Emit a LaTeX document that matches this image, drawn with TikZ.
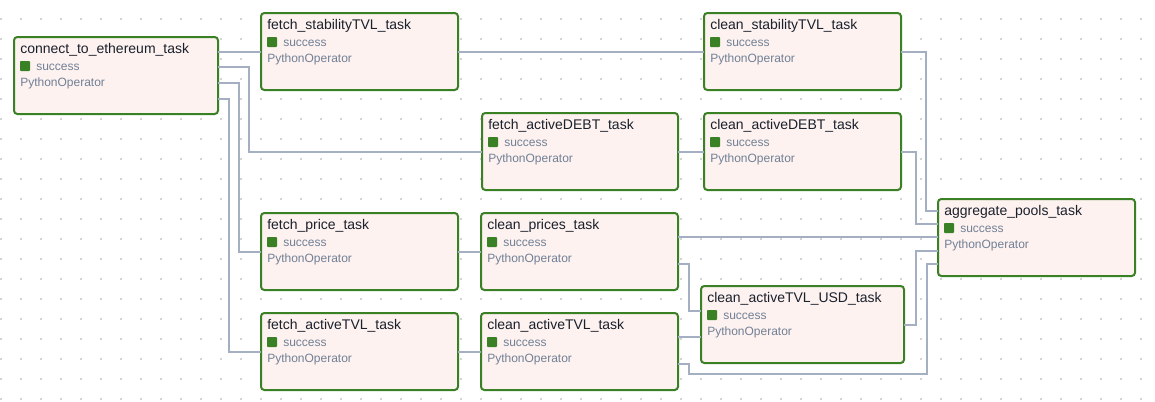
\documentclass[tikz,border=0pt]{standalone}
\usepackage{fontspec}
\setmainfont{Liberation Sans}
\usetikzlibrary{calc}
\definecolor{okgreen}{RGB}{58,128,36}
\definecolor{nodefill}{RGB}{253,242,239}
\definecolor{subgray}{RGB}{113,128,150}
\definecolor{edgegray}{RGB}{164,176,194}
\definecolor{titleblack}{RGB}{26,32,44}
\definecolor{dotgray}{RGB}{212,212,212}
\newcommand\tasknode[6]{%
  \node[taskbox, minimum width=#4*0.75pt, minimum height=#5*0.75pt] (#1) at (#2,#3) {};
  \node[tasktitle] (#1-t) at ($(#1.north west)+(6,16)$) {#6};
  \node[statesq] (#1-q) at ($(#1.north west)+(6,24)$) {};
  \node[tasksub] (#1-s) at ($(#1.north west)+(22,33)$) {success};
  \node[tasksub] (#1-o) at ($(#1.north west)+(6,49.5)$) {PythonOperator};
}
\begin{document}
\begin{tikzpicture}[x=0.75pt,y=-0.75pt,
  taskbox/.style={rectangle, draw=okgreen, fill=nodefill, line width=1.5pt, rounded corners=2.5pt, inner sep=0pt, outer sep=0pt, anchor=north west},
  tasktitle/.style={anchor=base west, inner sep=0pt, text=titleblack, font=\fontsize{10.5pt}{12pt}\selectfont},
  tasksub/.style={anchor=base west, inner sep=0pt, text=subgray, font=\fontsize{9pt}{11pt}\selectfont},
  statesq/.style={rectangle, fill=okgreen, rounded corners=0.6pt, inner sep=0pt, outer sep=0pt, minimum size=7.5pt, anchor=north west},
  edge/.style={draw=edgegray, line width=1.5pt}]
\useasboundingbox (0,0) rectangle (1155,401);
\foreach \i in {0,...,57}{
  \foreach \j in {0,...,19}{
    \fill[dotgray] (0.4+20*\i,18.4+20*\j) rectangle ++(1.2,1.2);
  }
}
\tasknode{cte}{14}{37}{204}{77}{connect\_to\_ethereum\_task}
\tasknode{fst}{261}{13}{197}{77}{fetch\_stabilityTVL\_task}
\tasknode{cst}{704}{13}{197}{77}{clean\_stabilityTVL\_task}
\tasknode{fad}{482}{113}{196}{77}{fetch\_activeDEBT\_task}
\tasknode{cad}{704}{113}{197}{77}{clean\_activeDEBT\_task}
\tasknode{fp}{261}{213}{197}{77}{fetch\_price\_task}
\tasknode{cp}{481}{213}{197}{77}{clean\_prices\_task}
\tasknode{fat}{261}{313}{197}{77}{fetch\_activeTVL\_task}
\tasknode{cat}{481}{313}{197}{77}{clean\_activeTVL\_task}
\tasknode{catu}{701}{286}{203}{77}{clean\_activeTVL\_USD\_task}
\tasknode{agg}{938}{199}{197}{77}{aggregate\_pools\_task}
% edges
\draw[edge] ($(cte.north east)+(0,14.5)$) coordinate (e1) -- (e1 -| fst.west);
\draw[edge] ($(cte.north east)+(0,30)$) -- ++(31,0) |- (fad.west);
\draw[edge] ($(cte.north east)+(0,46)$) -- ++(21,0) |- (fp.west);
\draw[edge] ($(cte.north east)+(0,62)$) -- ++(11,0) |- (fat.west);
\draw[edge] (fst.east) -- (cst.west);
\draw[edge] (fad.east) -- (cad.west);
\draw[edge] (fp.east) -- (cp.west);
\draw[edge] (fat.east) -- (cat.west);
\draw[edge] (cst.east) -- ++(25,0) |- ($(agg.north west)+(0,12)$);
\draw[edge] (cad.east) -- ++(15,0) |- ($(agg.north west)+(0,25)$);
\draw[edge] ($(cp.north east)+(0,24)$) coordinate (e11) -- (e11 -| agg.west);
\draw[edge] ($(cp.north east)+(0,51)$) -- ++(11,0) |- ($(catu.north west)+(0,25)$);
\draw[edge] ($(cat.north east)+(0,24)$) coordinate (e13) -- (e13 -| catu.west);
\draw[edge] (catu.east) -- ++(12,0) |- ($(agg.north west)+(0,52)$);
\draw[edge] ($(cat.north east)+(0,51)$) -- ++(11,0) -- ++(0,10) -- ++(238,0) |- ($(agg.north west)+(0,65)$);
\end{tikzpicture}
\end{document}
